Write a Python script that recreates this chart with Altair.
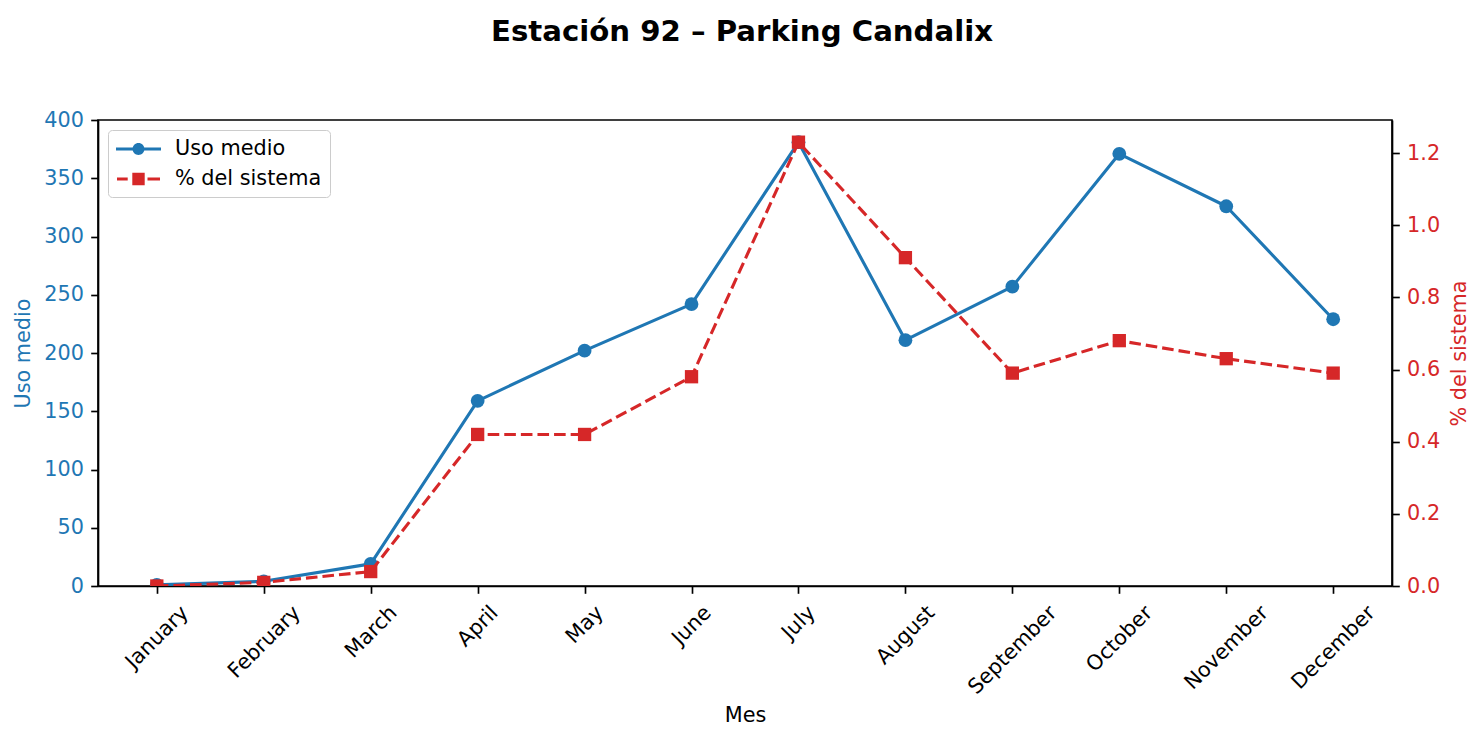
import altair as alt
import pandas as pd

# ---- data -------------------------------------------------------------
months = ["January", "February", "March", "April", "May", "June",
          "July", "August", "September", "October", "November", "December"]
uso_medio = [1, 4, 19, 159, 202, 242, 381, 211, 257, 371, 326, 229]
pct_sistema = [0.00, 0.01, 0.04, 0.42, 0.42, 0.58, 1.23, 0.91, 0.59, 0.68, 0.63, 0.59]
series = ["Uso medio", "% del sistema"]

df = pd.DataFrame({"mes": months, "uso": uso_medio, "pct": pct_sistema})
legend_df = pd.DataFrame({"serie": series, "mes": [months[0]] * 2, "uso": [0, 0]})

BLUE = "#1f77b4"
RED = "#d62728"
FONT = "DejaVu Sans"
FS = 20.8          # 10 pt at 150 dpi
LW = 3.1           # 1.5 pt line width
TICK = 7.3

# ---- rotated month labels: shift each so its box is centred on the tick --
glyph_w = {
    "a": .613, "b": .635, "c": .550, "e": .615, "g": .635, "h": .634,
    "i": .278, "l": .278, "m": .974, "n": .634, "o": .612, "p": .635,
    "r": .411, "s": .521, "t": .392, "u": .634, "v": .592, "y": .592,
    "A": .684, "D": .770, "F": .575, "J": .295, "M": .863, "N": .748,
    "O": .787, "S": .635,
}


def label_shift(text):
    return round(sum(glyph_w.get(ch, .6) for ch in text) * FS * 0.7071 / 2, 1)


offset_expr = " : ".join(
    f"datum.label === '{m}' ? {label_shift(m)}" for m in months
) + " : 0"

# ---- legend glyphs: line with marker, drawn as filled paths -------------
def rect(x0, x1, h):
    return f"M{x0},{-h}L{x1},{-h}L{x1},{h}L{x0},{h}Z"


u = 11.0  # px per path unit (symbolSize = (2u)^2)


def ux(px):
    return round(-1 + px / u, 3)


circle_r = round(6.0 / u, 3)
cx = ux(22.5)
blue_glyph = (rect(ux(0), ux(45), round(1.55 / u, 3)) +
              f"M{cx + circle_r},0A{circle_r},{circle_r} 0 1,1 {cx - circle_r},0"
              f"A{circle_r},{circle_r} 0 1,1 {cx + circle_r},0Z")
sq = round(6.2 / u, 3)
red_glyph = (rect(ux(1), ux(11.7), round(1.55 / u, 3)) +
             f"M{ux(16.3)},{-sq}L{ux(28.7)},{-sq}L{ux(28.7)},{sq}L{ux(16.3)},{sq}Z" +
             rect(ux(31.5), ux(44), round(1.55 / u, 3)))

legend_style = dict(
    title=None, orient="top-left", offset=10, padding=8,
    fillColor="white", strokeColor="#cccccc", cornerRadius=4,
    symbolSize=(2 * u) ** 2, symbolStrokeWidth=0,
    symbolOpacity=1, labelFont=FONT, labelFontSize=FS,
    labelColor="black", labelOffset=37, rowPadding=9,
)

# ---- scales / axes ----------------------------------------------------
x_enc = alt.X(
    "mes:N", sort=months,
    scale=alt.Scale(type="point", padding=0.55),
    axis=alt.Axis(title="Mes", labelAngle=315, labelAlign="right",
                  labelBaseline="middle", labelOffset={"expr": offset_expr},
                  labelPadding=16, labelColor="black", titlePadding=8),
)

left_axis = alt.Axis(title="Uso medio", values=list(range(0, 401, 50)),
                     labelColor=BLUE, titleColor=BLUE, titlePadding=10)
right_axis = alt.Axis(title="% del sistema", orient="right", format=".1f",
                      values=[0, 0.2, 0.4, 0.6, 0.8, 1.0, 1.2],
                      labelColor=RED, titleColor=RED, titleAngle=270,
                      titleBaseline="top", titlePadding=10)

y_left = alt.Y("uso:Q", scale=alt.Scale(domain=[0, max(uso_medio) * 1.05], nice=False),
               axis=left_axis)
y_right = alt.Y("pct:Q", scale=alt.Scale(domain=[0, max(pct_sistema) * 1.05], nice=False),
                axis=right_axis)

base = alt.Chart(df)

uso_line = base.mark_line(color=BLUE, strokeWidth=LW, strokeJoin="round", clip=True).encode(
    x=x_enc, y=y_left)
uso_pts = base.mark_point(color=BLUE, filled=True, opacity=1, size=190, shape="circle",
                          clip=True).encode(x=x_enc, y=y_left)

legend_layer = alt.Chart(legend_df).mark_point(filled=True, opacity=0).encode(
    x=x_enc, y=y_left,
    color=alt.Color("serie:N", scale=alt.Scale(domain=series, range=[BLUE, RED]),
                    legend=alt.Legend(**legend_style)),
    shape=alt.Shape("serie:N", scale=alt.Scale(domain=series, range=[blue_glyph, red_glyph]),
                    legend=alt.Legend(**legend_style)),
)

pct_line = base.mark_line(color=RED, strokeWidth=LW, strokeDash=[11.6, 5],
                          strokeJoin="round", clip=True).encode(x=x_enc, y=y_right)
pct_pts = base.mark_point(color=RED, filled=True, opacity=1, size=177, shape="square",
                          clip=True).encode(x=x_enc, y=y_right)

left = alt.layer(uso_line, uso_pts, legend_layer)
right = alt.layer(pct_line, pct_pts)

chart = alt.layer(left, right).resolve_scale(y="independent").properties(
    width=1294, height=466,
    autosize=alt.AutoSizeParams(type="none"),
    padding={"left": 98, "top": 120, "right": 91, "bottom": 154},
    title=alt.TitleParams("Estación 92 – Parking Candalix", font=FONT, fontSize=29.2,
                          fontWeight="bold", anchor="middle", color="black",
                          offset=62, dx=-3),
).configure_view(
    stroke="black", strokeWidth=1.67
).configure_axis(
    domainColor="black", domainWidth=1.67, tickColor="black", tickWidth=1.67,
    tickSize=TICK, labelPadding=TICK, labelFont=FONT, labelFontSize=FS,
    titleFont=FONT, titleFontSize=FS, titleFontWeight="normal", grid=False,
    labelOverlap=False, labelFlush=False,
)

chart.save("out.html", embed_options={"renderer": "svg", "actions": False})
